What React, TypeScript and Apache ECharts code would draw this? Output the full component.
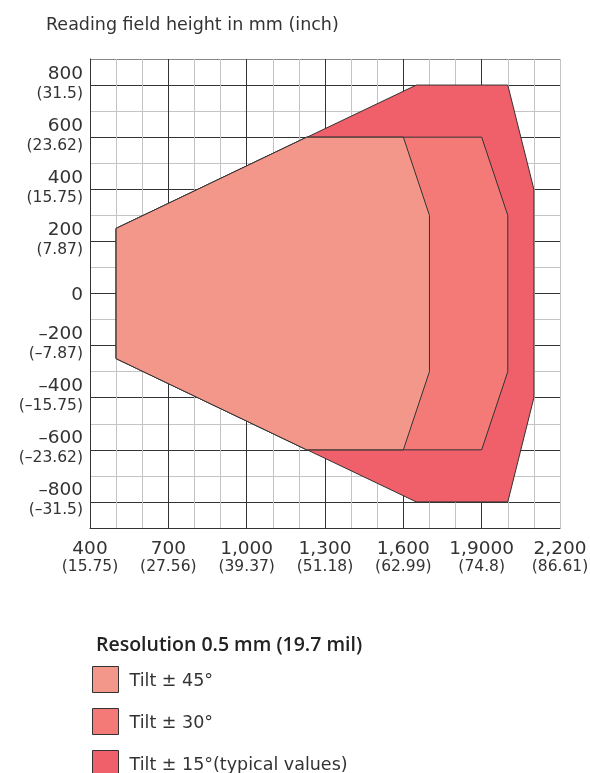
import React, { useEffect, useRef } from "react";
import * as echarts from "echarts";

// ---- data (mm) ----
const tilt45X = [500, 1230, 1600, 1700, 1700, 1600, 1230, 500];
const tilt45Y = [250, 600, 600, 300, -300, -600, -600, -250];
const tilt30X = [500, 1230, 1900, 2000, 2000, 1900, 1230, 500];
const tilt30Y = [250, 600, 600, 300, -300, -600, -600, -250];
const tilt15X = [500, 1650, 2000, 2100, 2100, 2000, 1650, 500];
const tilt15Y = [250, 800, 800, 400, -400, -800, -800, -250];

const seriesNames = ["Tilt ± 45°", "Tilt ± 30°", "Tilt ± 15°(typical values)"];

const xTicks = [400, 700, 1000, 1300, 1600, 1900, 2200];
const xMmLabels = ["400", "700", "1,000", "1,300", "1,600", "1,9000", "2,200"];
const xInchLabels = ["(15.75)", "(27.56)", "(39.37)", "(51.18)", "(62.99)", "(74.8)", "(86.61)"];

const yTicks = [800, 600, 400, 200, 0, -200, -400, -600, -800];
const yMmLabels = ["800", "600", "400", "200", "0", "–200", "–400", "–600", "–800"];
const yInchLabels = ["(31.5)", "(23.62)", "(15.75)", "(7.87)", "", "(–7.87)", "(–15.75)", "(–23.62)", "(–31.5)"];

const titleText = "Reading field height in mm (inch)";
const legendTitle = "Resolution 0.5 mm (19.7 mil)";

const FONT = "DejaVu Sans";
const DARK = "#333333";
const LIGHT = "#c4c4c4";

const xSplitColors = Array.from({ length: 19 }, (_, i) => (i === 18 ? LIGHT : i % 3 === 0 ? DARK : LIGHT));
const ySplitColors = Array.from({ length: 19 }, (_, i) => (i === 18 ? "#888888" : i % 2 === 1 ? DARK : LIGHT));

function polySeries(name: string, xs: number[], ys: number[], color: string) {
  return {
    type: "custom",
    name,
    xAxisIndex: 0,
    yAxisIndex: 0,
    itemStyle: { color, borderColor: DARK, borderWidth: 1 },
    data: xs.map((x, i) => [x, ys[i]]),
    encode: { x: 0, y: 1 },
    renderItem: (params: any, api: any) => {
      if (params.dataIndex !== 0) return null;
      const pts = xs.map((x, i) => api.coord([x, ys[i]]));
      return {
        type: "polygon",
        shape: { points: pts },
        style: { fill: color, stroke: DARK, lineWidth: 1 },
      };
    },
  };
}

const yBase = {
  type: "value",
  min: -900,
  max: 900,
  interval: 100,
  position: "left",
  axisTick: { show: false },
};

export default function App() {
  const ref = useRef<HTMLDivElement>(null);
  useEffect(() => {
    if (!ref.current) return;
    const chart = echarts.init(ref.current, undefined, { renderer: "svg" });
    chart.setOption({
      animation: false,
      textStyle: { fontFamily: FONT },
      title: [
        {
          text: titleText,
          left: 41,
          top: 10,
          textStyle: { fontFamily: FONT, fontSize: 17.5, fontWeight: "normal", color: "#333" },
        },
        {
          text: legendTitle,
          left: 91,
          top: 628,
          textStyle: {
            fontFamily: "Open Sans",
            fontSize: 19.5,
            fontWeight: 600,
            color: "#222",
          },
        },
      ],
      legend: {
        orient: "vertical",
        left: 92,
        top: 666,
        height: 130,
        padding: 0,
        itemWidth: 26,
        itemHeight: 26,
        itemGap: 15,
        icon: "rect",
        selectedMode: false,
        data: seriesNames,
        itemStyle: { borderColor: DARK, borderWidth: 1 },
        textStyle: { fontFamily: FONT, fontSize: 17.5, color: "#333", padding: [0, 0, 0, 6] },
      },
      grid: { left: 90, top: 59, right: 30, bottom: 245, outerBoundsMode: "none" },
      xAxis: {
        type: "value",
        min: 400,
        max: 2200,
        interval: 100,
        axisLine: { show: true, onZero: false, lineStyle: { color: DARK, width: 1 } },
        axisTick: { show: false },
        splitLine: { show: true, lineStyle: { color: xSplitColors, width: 1 } },
        axisLabel: {
          margin: 10,
          formatter: (v: number) => {
            const i = xTicks.indexOf(v);
            if (i < 0) return "";
            return `{a|${xMmLabels[i]}}\n{b|${xInchLabels[i]}}`;
          },
          rich: {
            a: { fontFamily: FONT, fontSize: 18.5, lineHeight: 19.5, color: "#333" },
            b: { fontFamily: FONT, fontSize: 15.5, lineHeight: 17.5, color: "#333" },
          },
        },
      },
      yAxis: [
        {
          ...yBase,
          axisLine: { show: true, onZero: false, lineStyle: { color: DARK, width: 1 } },
          splitLine: { show: true, lineStyle: { color: ySplitColors, width: 1 } },
          axisLabel: {
            margin: 7,
            fontFamily: FONT,
            fontSize: 18.5,
            lineHeight: 26,
            color: "#333",
            verticalAlign: "bottom",
            formatter: (v: number) => {
              const i = yTicks.indexOf(v);
              if (i < 0 || !yInchLabels[i]) return "";
              return yMmLabels[i];
            },
          },
        },
        {
          ...yBase,
          axisLine: { show: false },
          splitLine: { show: false },
          axisLabel: {
            margin: 7,
            fontFamily: FONT,
            fontSize: 15.5,
            lineHeight: 15,
            color: "#333",
            verticalAlign: "top",
            formatter: (v: number) => {
              const i = yTicks.indexOf(v);
              if (i < 0) return "";
              return yInchLabels[i];
            },
          },
        },
        {
          ...yBase,
          axisLine: { show: false },
          splitLine: { show: false },
          axisLabel: {
            margin: 7,
            fontFamily: FONT,
            fontSize: 18.5,
            color: "#333",
            formatter: (v: number) => {
              const i = yTicks.indexOf(v);
              if (i < 0 || yInchLabels[i]) return "";
              return yMmLabels[i];
            },
          },
        },
      ],
      series: [
        polySeries(seriesNames[2], tilt15X, tilt15Y, "#f0606a"),
        polySeries(seriesNames[1], tilt30X, tilt30Y, "#f37a77"),
        polySeries(seriesNames[0], tilt45X, tilt45Y, "#f3978b"),
      ],
    });
    return () => chart.dispose();
  }, []);
  return <div ref={ref} style={{ position: "fixed", left: 0, top: 0, width: 590, height: 773 }} />;
}
